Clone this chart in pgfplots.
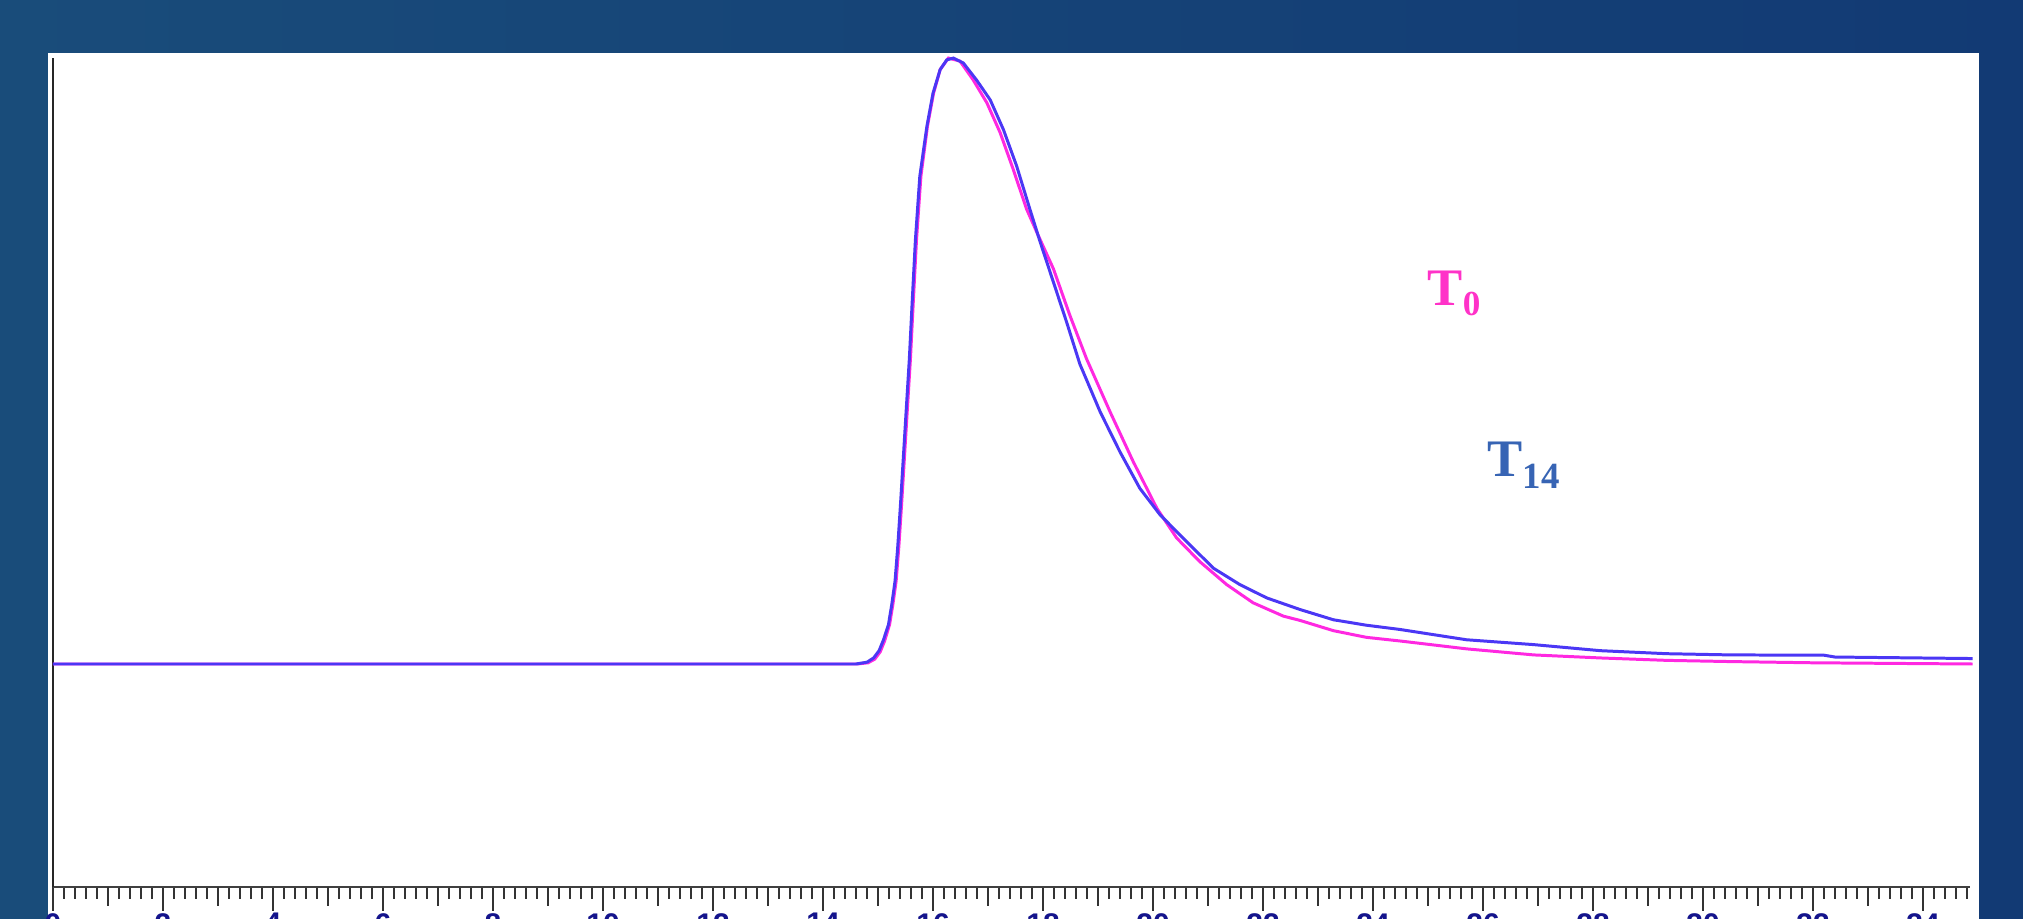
\documentclass[border=0pt]{standalone}
\usepackage{fontspec}
\setmainfont{Liberation Serif}
\setsansfont{Liberation Sans}
\usepackage{pgfplots}
\pgfplotsset{compat=1.18}
\definecolor{bgA}{RGB}{25,76,122}
\definecolor{bgB}{RGB}{18,58,116}
\definecolor{tzero}{RGB}{255,40,225}
\definecolor{tfourteen}{RGB}{75,55,245}
\definecolor{lblzero}{RGB}{255,50,200}
\definecolor{lblfourteen}{RGB}{55,100,180}
\definecolor{ticklbl}{RGB}{20,20,140}

\begin{document}
\begin{tikzpicture}
\path[use as bounding box] (0,0) rectangle (20.23,9.19);
\clip (0,0) rectangle (20.23,9.19);
\shade[left color=bgA, right color=bgB] (0,0) rectangle (20.23,9.19);
\fill[white] (0.48,0) rectangle (19.79,8.66);
\begin{axis}[
  at={(0.53cm,0.32cm)}, anchor=south west,
  x=0.55cm, y=0.0606cm,
  xmin=0, xmax=34.85, ymin=-36.8, ymax=100,
  axis x line=bottom, axis y line=left,
  axis line style={-},
  x axis line style={black!75, line width=0.7pt},
  y axis line style={black!85, line width=0.8pt},
  ytick=\empty,
  xtick={0,2,...,34},
  minor xtick={0,0.2,...,34.8},
  extra x ticks={1,3,...,33},
  extra x tick labels={},
  extra x tick style={major tick length=0.19cm},
  tick align=outside,
  major tick length=0.24cm,
  minor tick length=0.12cm,
  every tick/.style={black!80, line width=0.55pt},
  /pgf/number format/assume math mode=true,
  xticklabel style={font=\sffamily\bfseries\fontsize{8.5}{10}\selectfont,
    text=ticklbl, yshift=0.1cm},
  clip=false,
  no markers,
]
% T0
\addplot[tzero, line width=0.85pt] coordinates {
(0,0) (14.62,0) (14.82,0.2) (14.94,0.8) (15.04,2.0) (15.12,3.8) (15.21,6.5)
(15.27,9.8) (15.33,13.7) (15.38,19.5) (15.43,26.5) (15.48,34) (15.53,41.5)
(15.59,50.4) (15.64,59.5) (15.70,70) (15.78,80.5) (15.90,88.8) (16.01,94.2)
(16.13,98.1) (16.28,100) (16.49,99.5) (16.73,96.4) (16.98,92.6) (17.22,87.7)
(17.46,81.6) (17.70,75.1) (17.89,71.2) (18.19,65.2) (18.49,57.5) (18.79,50.4)
(19.22,41.6) (19.64,33.4) (20.07,25.7) (20.43,20.8) (20.85,16.9) (21.34,13.1)
(21.82,10.1) (22.37,7.9) (22.67,7.2) (23.28,5.5) (23.88,4.4) (24.49,3.8)
(25.70,2.5) (26.92,1.5) (28.13,1.0) (29.34,0.6) (30.5,0.4) (32.0,0.2) (34.9,0.0)
};
% T14
\addplot[tfourteen, line width=0.85pt] coordinates {
(0,0) (14.60,0) (14.80,0.3) (14.92,1.0) (15.02,2.2) (15.10,4.0) (15.19,6.5)
(15.25,9.8) (15.31,13.7) (15.36,19.5) (15.41,26.5) (15.46,34) (15.51,41.5)
(15.57,50.4) (15.62,59.5) (15.68,70) (15.76,80.5) (15.89,88.8) (16.00,94.2)
(16.13,98.1) (16.25,99.7) (16.37,100) (16.55,99.2) (16.79,96.4) (17.04,93.1)
(17.28,88.2) (17.52,82.2) (17.76,75.1) (17.95,69.6) (18.19,63.0) (18.43,56.4)
(18.67,49.5) (19.04,41.6) (19.40,35.0) (19.76,29.0) (20.13,24.6) (20.61,20.2)
(21.10,15.8) (21.58,13.1) (22.07,10.9) (22.67,9.0) (23.28,7.3) (23.88,6.4)
(24.49,5.7) (25.70,4.0) (26.92,3.2) (28.13,2.2) (29.34,1.7) (30.5,1.5)
(32.2,1.45) (32.4,1.15) (34.9,0.9)
};
\node[anchor=base west, inner sep=0pt, text=lblzero,
  font=\fontsize{15}{15}\selectfont\bfseries] at (axis cs:24.98,59.2)
  {T\raisebox{-3pt}{\fontsize{10}{10}\selectfont 0}};
\node[anchor=base west, inner sep=0pt, text=lblfourteen,
  font=\fontsize{15}{15}\selectfont\bfseries] at (axis cs:26.07,30.9)
  {T\raisebox{-3.3pt}{\fontsize{10.5}{10.5}\selectfont 14}};
\end{axis}
\end{tikzpicture}
\end{document}
